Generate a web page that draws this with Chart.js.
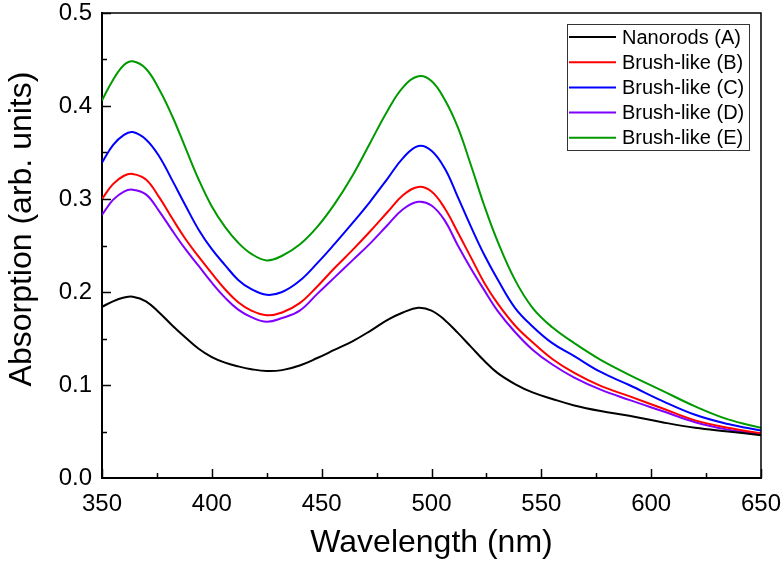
<!DOCTYPE html>
<html>
<head>
<meta charset="utf-8">
<script src="https://cdn.jsdelivr.net/npm/chart.js@4.4.0/dist/chart.umd.min.js"></script>
<style>
html,body{margin:0;padding:0;background:#fff;}
#wrap{width:784px;height:566px;}
</style>
</head>
<body>
<div id="wrap"><canvas id="chart" width="784" height="566"></canvas></div>
<script>
// wavelength (nm), shared by all curves
const wavelength = [350,355,360,364,370,376,382,388,394,400,406,412,418,425,432,440,448,456,464,472,480,487,494,500,506,512,518,524,530,538,546,555,565,577,590,605,620,635,650];

const nanorodsA = [.184,.190,.194,.195,.190,.178,.164,.151,.139,.130,.124,.120,.117,.115,.116,.121,.129,.138,.147,.158,.170,.178,.183,.180,.170,.156,.141,.126,.113,.101,.092,.085,.078,.072,.067,.060,.054,.050,.046];
const brushB = [.300,.316,.325,.327,.321,.302,.279,.257,.238,.220,.203,.189,.180,.175,.178,.188,.206,.226,.245,.265,.286,.304,.313,.308,.290,.264,.237,.210,.188,.164,.146,.128,.113,.099,.088,.075,.062,.054,.048];
const brushC = [.339,.358,.369,.372,.364,.346,.320,.293,.267,.246,.229,.213,.203,.197,.200,.212,.231,.252,.274,.297,.322,.344,.357,.352,.333,.302,.270,.240,.214,.183,.163,.145,.131,.114,.100,.083,.068,.058,.051];
const brushD = [.283,.299,.308,.310,.305,.287,.266,.246,.228,.210,.194,.181,.173,.168,.172,.180,.198,.216,.234,.252,.272,.289,.297,.293,.277,.250,.225,.202,.180,.157,.138,.122,.108,.095,.084,.072,.060,.052,.047];
const brushE = [.406,.428,.444,.448,.440,.418,.389,.355,.321,.292,.270,.253,.241,.234,.239,.251,.270,.295,.325,.360,.395,.420,.432,.427,.407,.377,.336,.293,.255,.213,.183,.162,.145,.127,.111,.094,.077,.063,.054];

const labels = ["Nanorods (A)","Brush-like (B)","Brush-like (C)","Brush-like (D)","Brush-like (E)"];
const colors = ["#000000","#ff0000","#0000ff","#7f00ff","#009a00"];
const series = [nanorodsA, brushB, brushC, brushD, brushE];

const xTicks = [350,400,450,500,550,600,650];
const yTicks = [0.0,0.1,0.2,0.3,0.4,0.5];

const FONT = "'Liberation Sans', Arial, sans-serif";

// draws the frame, inward ticks, legend box and y title
const extras = {
  id: "extras",
  afterDraw(chart){
    const ctx = chart.ctx;
    const a = chart.chartArea;
    const xs = chart.scales.x, ys = chart.scales.y;
    ctx.save();
    ctx.strokeStyle = "#000";
    ctx.lineWidth = 1.5;
    ctx.beginPath();
    ctx.moveTo(a.left, a.top); ctx.lineTo(a.right, a.top); ctx.lineTo(a.right, a.bottom);
    ctx.stroke();

    for(let v = 350; v <= 650; v += 25){
      const px = Math.round(xs.getPixelForValue(v)) + 0.5;
      const len = (v % 50 === 0) ? 9 : 5;
      ctx.beginPath(); ctx.moveTo(px, a.bottom); ctx.lineTo(px, a.bottom - len); ctx.stroke();
    }
    for(let i = 1; i <= 10; i++){
      const py = Math.round(ys.getPixelForValue(i * 0.05)) + 0.5;
      const len = (i % 2 === 0) ? 9 : 5;
      ctx.beginPath(); ctx.moveTo(a.left, py); ctx.lineTo(a.left + len, py); ctx.stroke();
    }

    // legend
    ctx.lineWidth = 1;
    ctx.strokeStyle = "#333";
    ctx.strokeRect(567.5, 24.5, 182, 126);
    ctx.font = "20px " + FONT;
    ctx.textBaseline = "middle";
    ctx.fillStyle = "#000";
    chart.data.datasets.forEach((ds, i) => {
      const yy = 37 + i * 25.2;
      ctx.strokeStyle = ds.borderColor;
      ctx.lineWidth = 2;
      ctx.beginPath(); ctx.moveTo(569, yy); ctx.lineTo(616, yy); ctx.stroke();
      ctx.fillText(ds.label, 622, yy + 1);
    });

    // y title
    ctx.translate(22, 229);
    ctx.rotate(-Math.PI / 2);
    ctx.font = "32px " + FONT;
    ctx.textAlign = "center";
    ctx.textBaseline = "middle";
    ctx.fillText("Absorption (arb. units)", 0, 0);
    ctx.restore();
  }
};

new Chart(document.getElementById("chart").getContext("2d"), {
  type: "line",
  data: {
    datasets: series.map((s, i) => ({
      label: labels[i],
      data: wavelength.map((w, j) => ({x: w, y: s[j]})),
      borderColor: colors[i],
      borderWidth: 2,
      pointRadius: 0,
      tension: 0.4,
      fill: false
    }))
  },
  options: {
    responsive: false,
    animation: false,
    devicePixelRatio: 1,
    layout: {padding: {top: 13, right: 23, left: 0, bottom: 0}},
    plugins: {legend: {display: false}, tooltip: {enabled: false}},
    scales: {
      x: {
        type: "linear", min: 350, max: 650,
        afterBuildTicks: s => { s.ticks = xTicks.map(v => ({value: v})); },
        afterFit: s => { s.height = 88; s.paddingLeft = 0; s.paddingRight = 0; },
        grid: {display: false, drawTicks: false},
        border: {color: "#000", width: 2},
        ticks: {color: "#000", padding: 12, font: {family: FONT, size: 24}},
        title: {display: true, text: "Wavelength (nm)", color: "#000", padding: {top: 9}, font: {family: FONT, size: 32}}
      },
      y: {
        min: 0, max: 0.5,
        afterBuildTicks: s => { s.ticks = yTicks.map(v => ({value: v})); },
        afterFit: s => { s.width = 102; s.paddingTop = 0; s.paddingBottom = 0; },
        grid: {display: false, drawTicks: false},
        border: {color: "#000", width: 2},
        ticks: {color: "#000", padding: 10, font: {family: FONT, size: 24}, callback: v => Number(v).toFixed(1)}
      }
    }
  },
  plugins: [extras]
});
</script>
</body>
</html>
